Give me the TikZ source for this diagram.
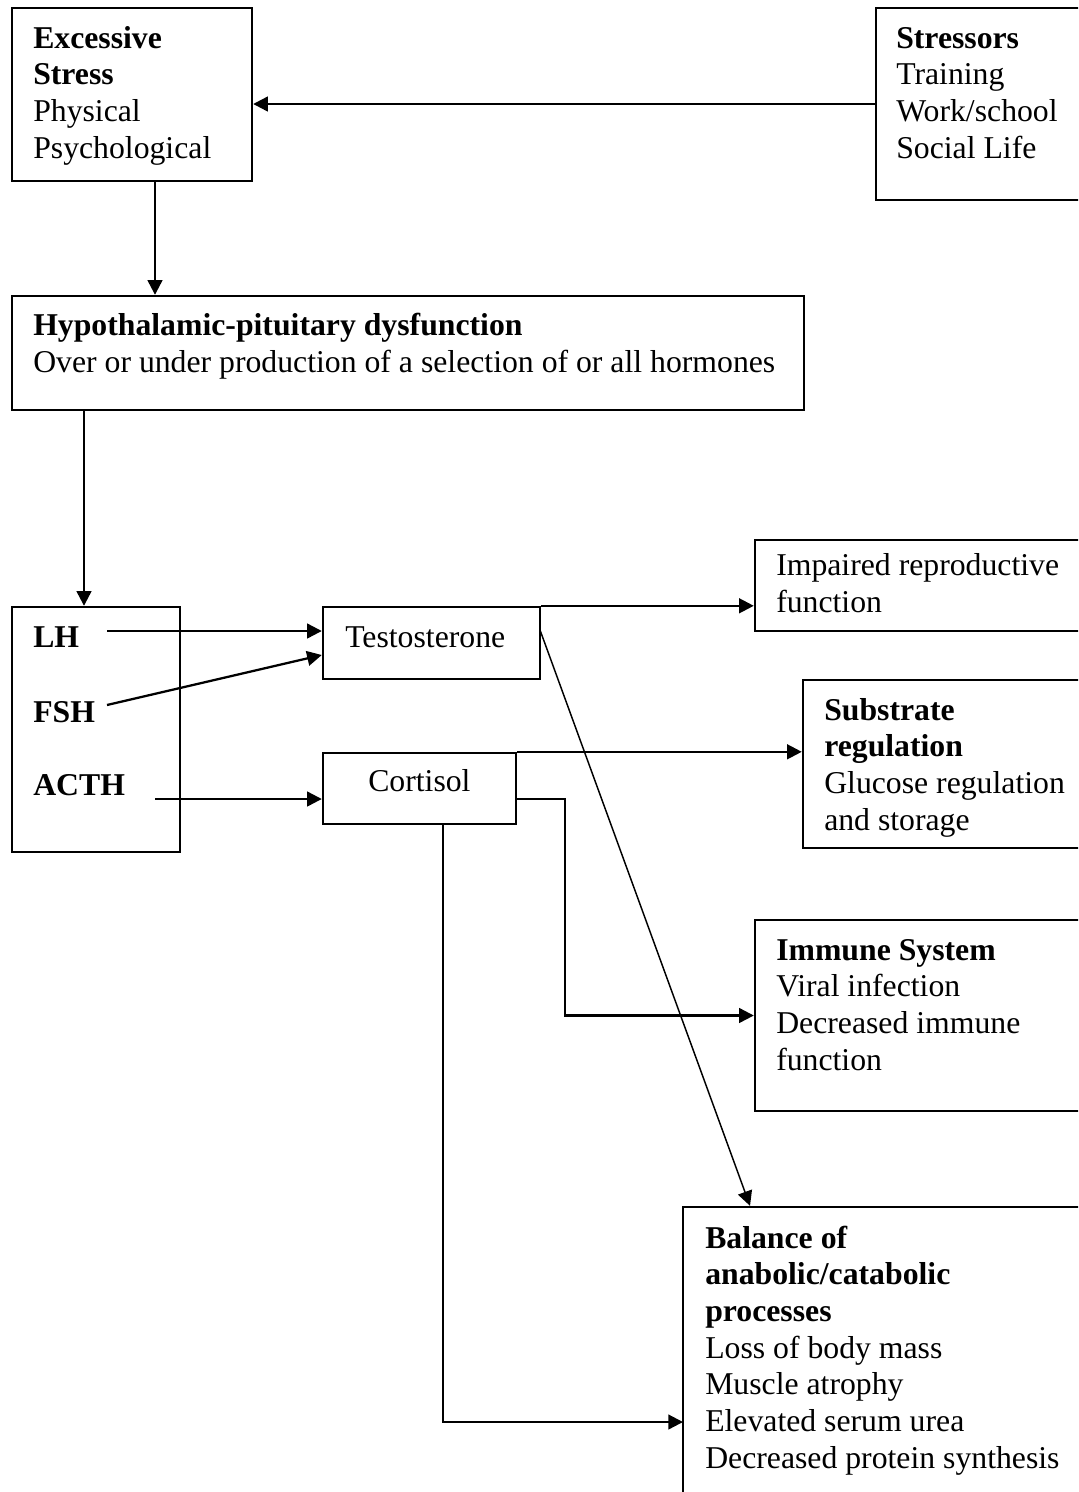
\documentclass[tikz,border=0pt]{standalone}
\usepackage{fontspec}
\setmainfont{Liberation Serif}
\usetikzlibrary{arrows.meta,fit}
\begin{document}
\begin{tikzpicture}[x=0.75pt,y=-0.75pt,
  box/.style={draw, line width=1.8pt, inner sep=0pt},
  txt/.style={anchor=base west, align=left, inner sep=0pt, font=\fontsize{23.8}{27.5}\selectfont},
  arr/.style={line width=1.7pt, -{Triangle[length=11pt,width=11pt]}},
  thinarr/.style={line width=1.1pt, -{Triangle[length=11pt,width=11pt]}}]
\useasboundingbox (0,0) rectangle (1078,1492);
\clip (0,0) rectangle (1078,1492);
\fill[white] (0,0) rectangle (1078,1492);
% boxes
\node[box, fit={(12,8) (252,181)}] (exc) {};
\node[box, fit={(876,8) (1095,200)}] (str) {};
\node[box, fit={(12,296) (804,410)}] (hyp) {};
\node[box, fit={(12,607) (180,852)}] (hor) {};
\node[box, fit={(323,607) (540,679)}] (tes) {};
\node[box, fit={(323,753) (516,824)}] (cor) {};
\node[box, fit={(755,540) (1095,631)}] (imp) {};
\node[box, fit={(803,680) (1095,848)}] (sub) {};
\node[box, fit={(755,920) (1095,1111)}] (imm) {};
\node[box, fit={(683,1207) (1095,1510)}] (bal) {};
% texts (anchored at the baseline of their last line)
\node[txt] (exct) at (33,158) {\textbf{Excessive}\\\textbf{Stress}\\Physical\\Psychological};
\node[txt] (strt) at (896,158) {\textbf{Stressors}\\Training\\Work/school\\Social Life};
\node[txt] (hypt) at (33,372) {\textbf{Hypothalamic-pituitary dysfunction}\\Over or under production of a selection of or all hormones};
\node[txt] (lh) at (33,647) {\textbf{LH}};
\node[txt] (fsh) at (33,722) {\textbf{FSH}};
\node[txt] (acth) at (33,795) {\textbf{ACTH}};
\node[txt] (test) at (345,647) {Testosterone};
\node[txt] (cort) at (368,791) {Cortisol};
\node[txt] (impt) at (776,612) {Impaired reproductive\\function};
\node[txt] (subt) at (824,830) {\textbf{Substrate}\\\textbf{regulation}\\Glucose regulation\\and storage};
\node[txt] (immt) at (776,1070) {\textbf{Immune System}\\Viral infection\\Decreased immune\\function};
\node[txt] (balt) at (705,1468) {\textbf{Balance of}\\\textbf{anabolic/catabolic}\\\textbf{processes}\\Loss of body mass\\Muscle atrophy\\Elevated serum urea\\Decreased protein synthesis};
% connector start points
\coordinate (lhs) at (107,631);
\coordinate (fshs) at (107,705);
\coordinate (acs) at (155,799);
\coordinate (tesd) at (540,630);
\coordinate (cori) at (516,799);
\coordinate (balin) at (683,1422);
% connectors
\draw[arr] (str.west) -- (exc.east |- str.west);
\draw[arr] (exc.south -| 155,0) -- (hyp.north -| 155,0);
\draw[arr] (hyp.south -| 84,0) -- (hor.north -| 84,0);
\draw[arr] (lhs) -- (tes.west |- lhs);
\draw[arr] (fshs) -- ([yshift=-9pt]tes.west);
\draw[arr] (acs) -- (cor.west |- acs);
\draw[arr] (tes.north east) -- (imp.west |- tes.north east);
\draw[thinarr] (tesd) -- (bal.north -| 750,0);
\draw[arr] (cor.north east) -- (sub.west |- cor.north east);
\draw[arr] (cori) -- ++(49,0) |- (imm.west);
\draw[arr] (cor.south -| 443,0) |- (balin);
\end{tikzpicture}
\end{document}
